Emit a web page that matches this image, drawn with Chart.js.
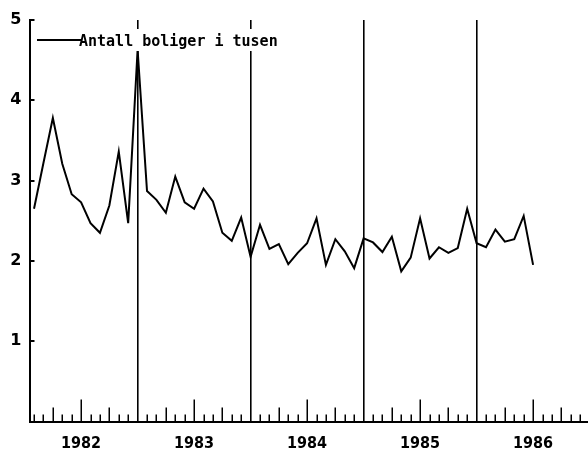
<!DOCTYPE html>
<html>
<head>
<meta charset="utf-8">
<title>Antall boliger i tusen</title>
<script src="https://cdn.jsdelivr.net/npm/chart.js@4.4.1/dist/chart.umd.min.js"></script>
<style>
  html, body { margin: 0; padding: 0; background: #fff; }
  #wrap { width: 588px; height: 450px; }
</style>
</head>
<body>
<div id="wrap"><canvas id="c" width="588" height="450"></canvas></div>
<script>
// Series name and axis labels
const seriesLabel = 'Antall boliger i tusen';
const yearLabels = ['1982', '1983', '1984', '1985', '1986'];
const yTickValues = [1, 2, 3, 4, 5];

// Monthly values (thousands), Jan 1982 – Jun 1986
const monthlyValues = [
  2.65, 3.22, 3.78, 3.21, 2.83, 2.73, 2.47, 2.35, 2.69, 3.36, 2.47, 4.63,
  2.87, 2.76, 2.60, 3.05, 2.73, 2.65, 2.90, 2.74, 2.35, 2.25, 2.54, 2.05,
  2.45, 2.15, 2.21, 1.96, 2.10, 2.22, 2.53, 1.95, 2.27, 2.12, 1.91, 2.28,
  2.23, 2.11, 2.30, 1.87, 2.04, 2.53, 2.03, 2.17, 2.10, 2.16, 2.65, 2.22,
  2.17, 2.39, 2.24, 2.27, 2.56, 1.95
];

// x is measured in months from 1 Jan 1982; each month is plotted at its end
const points = monthlyValues.map((v, i) => ({ x: i + 1, y: v }));
const monthTicks = [];
for (let m = 1; m < 60; m++) monthTicks.push(m);

// Tick marks pointing into the plot, the boxed legend
const marksPlugin = {
  id: 'marks',
  afterDraw(chart) {
    const { ctx, chartArea: a, scales: { x, y } } = chart;
    ctx.save();
    ctx.strokeStyle = '#000';
    ctx.lineCap = 'butt';

    // month / quarter / half-year marks along the time axis
    ctx.lineWidth = 1.5;
    x.ticks.forEach(t => {
      const m = t.value;
      if (m % 12 === 0) return;
      const len = m % 6 === 0 ? 22 : (m % 3 === 0 ? 14 : 7);
      const px = Math.round(x.getPixelForValue(m)) + 0.25;
      ctx.beginPath();
      ctx.moveTo(px, a.bottom);
      ctx.lineTo(px, a.bottom - len);
      ctx.stroke();
    });

    // value marks on the vertical axis
    ctx.lineWidth = 2;
    yTickValues.forEach(v => {
      const py = Math.round(y.getPixelForValue(v));
      ctx.beginPath();
      ctx.moveTo(a.left, py);
      ctx.lineTo(a.left + 5, py);
      ctx.stroke();
    });

    // legend
    ctx.fillStyle = '#fff';
    ctx.fillRect(33, 29, 252, 22);
    ctx.lineWidth = 2;
    ctx.beginPath();
    ctx.moveTo(37, 40);
    ctx.lineTo(81, 40);
    ctx.stroke();
    ctx.fillStyle = '#000';
    ctx.font = 'bold 15px "DejaVu Sans Mono"';
    ctx.textBaseline = 'alphabetic';
    ctx.textAlign = 'left';
    ctx.fillText(chart.data.datasets[0].label, 79, 46);
    ctx.restore();
  }
};

new Chart(document.getElementById('c'), {
  type: 'line',
  data: {
    datasets: [{
      label: seriesLabel,
      data: points,
      borderColor: '#000',
      borderWidth: 2,
      pointRadius: 0,
      tension: 0,
      fill: false
    }]
  },
  options: {
    responsive: false,
    animation: false,
    layout: { padding: { top: 20, right: 0, left: 0, bottom: 0 } },
    plugins: { legend: { display: false }, tooltip: { enabled: false } },
    scales: {
      x: {
        type: 'linear',
        min: 0.52,
        max: 59.83,
        afterBuildTicks: s => { s.ticks = monthTicks.map(v => ({ value: v })); },
        afterFit: s => { s.height = 28.5; s.paddingLeft = 0; s.paddingRight = 0; },
        grid: {
          drawTicks: false,
          lineWidth: 1.6,
          color: c => (c.tick && c.tick.value % 12 === 0) ? '#000' : 'rgba(0,0,0,0)'
        },
        border: { display: true, color: '#000', width: 2 },
        ticks: {
          autoSkip: false,
          maxRotation: 0,
          padding: 13,
          color: '#000',
          font: { family: '"DejaVu Sans Condensed", "DejaVu Sans"', size: 16, weight: 'bold' },
          callback: v => (v % 12 === 6 ? yearLabels[(v - 6) / 12] : '')
        }
      },
      y: {
        min: 0,
        max: 5,
        afterBuildTicks: s => { s.ticks = [0, ...yTickValues].map(v => ({ value: v })); },
        afterFit: s => { s.width = 29.5; s.paddingTop = 0; s.paddingBottom = 0; },
        grid: { display: false, drawTicks: false },
        border: { display: true, color: '#000', width: 2 },
        ticks: {
          padding: 8,
          color: '#000',
          font: { family: '"DejaVu Sans"', size: 16, weight: 'bold' },
          callback: v => (v === 0 ? '' : String(v))
        }
      }
    }
  },
  plugins: [marksPlugin]
});
</script>
</body>
</html>
